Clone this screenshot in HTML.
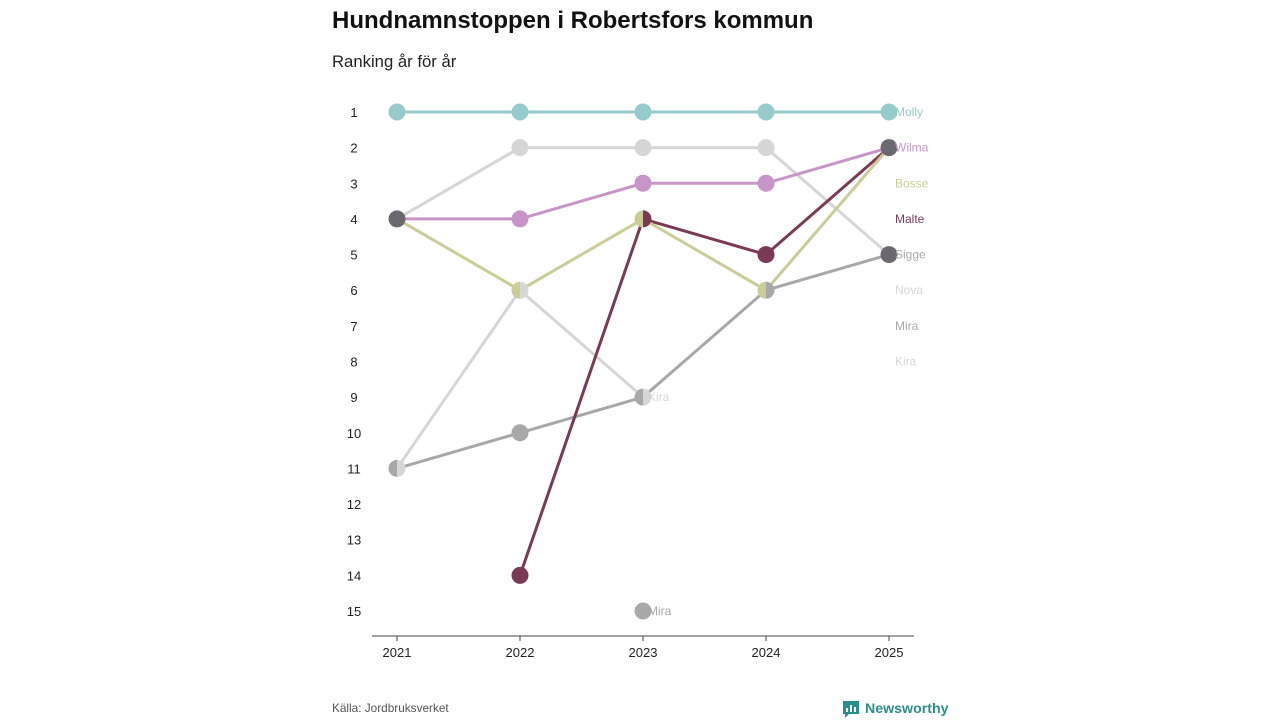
<!DOCTYPE html>
<html><head><meta charset="utf-8"><style>
body{margin:0;background:#fff;width:1280px;height:720px;overflow:hidden;font-family:"Liberation Sans","DejaVu Sans",sans-serif}
</style></head><body>
<svg width="1280" height="720">
<text x="332" y="28" font-size="24" font-weight="bold" fill="#111">Hundnamnstoppen i Robertsfors kommun</text>
<text x="332" y="67" font-size="16.7" fill="#222">Ranking år för år</text>
<g id="plot"></g>
<text x="332" y="712" font-size="11.8" fill="#555">Källa: Jordbruksverket</text>
<g>
<path d="M843 701 h16 v13 h-10 l-4 4 v-4 h-2 z" fill="#2a8f8a"/>
<rect x="846" y="708" width="2" height="4" fill="#fff"/><rect x="850" y="705" width="2" height="7" fill="#fff"/><rect x="854" y="707" width="2" height="5" fill="#fff"/>
<text x="865" y="713" font-size="14.2" font-weight="bold" fill="#2a8f8a">Newsworthy</text>
</g>
</svg>
<script>
const years=[2021,2022,2023,2024,2025];
const names=["Molly","Wilma","Bosse","Malte","Sigge","Nova","Mira","Kira"];
const colors=["#96cbcb","#c895c8","#cccc99","#7a3a55","#a8a8a8","#d6d6d6","#a8a8a8","#d6d6d6"];
const rMolly=[1,1,1,1,1];
const rWilma=[4,4,3,3,2];
const rBosse=[4,6,4,6,2];
const rMalte=[null,14,4,5,2];
const rSigge=[11,10,9,6,5];
const rNova=[4,2,2,2,5];
const rMira=[null,null,15,null,null];
const rKira=[11,6,9,null,null];
const ranks=[rMolly,rWilma,rBosse,rMalte,rSigge,rNova,rMira,rKira];
const yTicks=[1,2,3,4,5,6,7,8,9,10,11,12,13,14,15];
const NS="http://www.w3.org/2000/svg";
const g=document.getElementById('plot');
const x=i=>397+i*123;
const y=r=>112+(r-1)*(611-112)/14;
function el(t,a,p){const e=document.createElementNS(NS,t);for(const k in a)e.setAttribute(k,a[k]);(p||g).appendChild(e);return e;}
yTicks.forEach(t=>{const e=el('text',{x:354,y:y(t)+5,'font-size':13,'text-anchor':'middle',fill:'#222'});e.textContent=t;

});
const ax=el('line',{x1:372,x2:914,y1:636,y2:636,stroke:'#444','stroke-width':1});


years.forEach((yr,i)=>{el('line',{x1:x(i),x2:x(i),y1:636,y2:641,stroke:'#444'});
const e=el('text',{x:x(i),y:657,'font-size':13,'text-anchor':'middle',fill:'#222'});e.textContent=yr;

});
for(let s=names.length-1;s>=0;s--){const r=ranks[s];let d='';r.forEach((v,i)=>{if(v==null)return;d+=(d?'L':'M')+x(i)+' '+y(v);});
const p=el('path',{d:d,fill:'none',stroke:colors[s],'stroke-width':3});

}
const groups={};
names.forEach((n,s)=>ranks[s].forEach((v,i)=>{if(v==null)return;const k=i+'_'+v;(groups[k]=groups[k]||[]).push(s);}));
const R=8.5;
for(const k in groups){const [i,v]=k.split('_').map(Number);const ss=groups[k];const cx=x(i),cy=y(v);
let node;
if(ss.length===1){node=el('circle',{cx:cx,cy:cy,r:R,fill:colors[ss[0]]});}
else if(ss.length===2 && !(i===4&&v===5)){node=el('g',{});
el('path',{d:`M${cx} ${cy-R}A${R} ${R} 0 0 0 ${cx} ${cy+R}Z`,fill:colors[ss[0]]},node);
el('path',{d:`M${cx} ${cy-R}A${R} ${R} 0 0 1 ${cx} ${cy+R}Z`,fill:colors[ss[1]]},node);}
else{node=el('circle',{cx:cx,cy:cy,r:R,fill:'#6b6870'});}

}
names.forEach((n,s)=>{const r=ranks[s];if(r[4]!=null)return;let li=-1;r.forEach((v,i)=>{if(v!=null)li=i;});
const e=el('text',{x:x(li)+5,y:y(r[li])+4,'font-size':12,fill:colors[s]});e.textContent=n;

});
names.forEach((n,s)=>{const e=el('text',{x:895,y:y(s+1)+4,'font-size':12,fill:colors[s]});e.textContent=n;

});
</script>
</body></html>
